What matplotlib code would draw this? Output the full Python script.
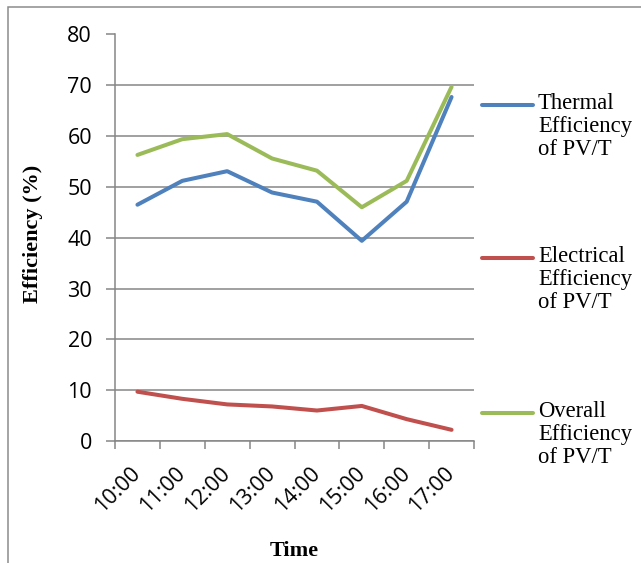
import matplotlib
matplotlib.use('Agg')
import matplotlib.pyplot as plt
from matplotlib.lines import Line2D
from matplotlib.patches import Rectangle

# data
times = ['10:00', '11:00', '12:00', '13:00', '14:00', '15:00', '16:00', '17:00']
thermal = [46.5, 51.2, 53.1, 48.9, 47.1, 39.4, 47.1, 67.7]
electrical = [9.7, 8.3, 7.2, 6.8, 6.0, 6.9, 4.3, 2.2]
overall = [56.3, 59.4, 60.4, 55.6, 53.2, 46.0, 51.2, 69.7]
series_names = ['Thermal\nEfficiency\nof PV/T', 'Electrical\nEfficiency\nof PV/T', 'Overall\nEfficiency\nof PV/T']
colors = ['#4F81BD', '#C0504D', '#9BBB59']

W, H = 641, 563
fig = plt.figure(figsize=(W / 100, H / 100), dpi=100)
# plot area in pixel coords: x 115..474, y 34.5..441
ax = fig.add_axes([115 / W, 1 - 441 / H, (474 - 115) / W, (441 - 34.5) / H])

grid_col = '#868686'
x = list(range(len(times)))
for vals, c in zip([thermal, electrical, overall], colors):
    ax.plot(x, vals, color=c, lw=2.9, solid_capstyle='round', solid_joinstyle='round')

ax.set_xlim(-0.5, len(times) - 0.5)
ax.set_ylim(0, 80)
ax.set_yticks(range(0, 81, 10))
ax.yaxis.grid(True, color=grid_col, lw=1.1)
ax.set_axisbelow(True)
for s in ['top', 'right']:
    ax.spines[s].set_visible(False)
for s in ['left', 'bottom']:
    ax.spines[s].set_color(grid_col)
    ax.spines[s].set_linewidth(1.1)

# ticks between categories on x, labels at centres
ax.set_xticks([i - 0.5 for i in range(len(times) + 1)])
ax.set_xticklabels([])
ax.set_xticks(x, minor=True)
ax.set_xticklabels(times, minor=True, rotation=45, ha='right', va='center',
                   rotation_mode='anchor', fontsize=15.5, family='Open Sans')
ax.tick_params(axis='x', which='major', length=6, color=grid_col, width=1.1)
ax.tick_params(axis='x', which='minor', length=0, pad=21)
ax.tick_params(axis='y', length=6.5, color=grid_col, width=1.1, pad=10, labelsize=15.5)
for lab in ax.get_yticklabels():
    lab.set_family('Open Sans')

fig.text(33 / W, 1 - 234 / H, 'Efficiency (%)', rotation=90, ha='center', va='center',
         family='Liberation Serif', fontweight='bold', fontsize=16)
fig.text(294 / W, 1 - 551 / H, 'Time', ha='center', va='center',
         family='Liberation Serif', fontweight='bold', fontsize=16)

# legend drawn by hand so the swatch sits on the first text line
leg_y = [105, 258, 413]
for name, c, ly in zip(series_names, colors, leg_y):
    fig.add_artist(Line2D([482 / W, 533 / W], [1 - ly / H, 1 - ly / H], color=c, lw=2.9,
                          transform=fig.transFigure, solid_capstyle='round'))
    fig.text(538 / W, 1 - (ly - 12) / H, name, ha='left', va='top', family='Liberation Serif',
             fontsize=16.3, linespacing=1.12)

# outer frame
fig.add_artist(Rectangle((8 / W, -0.05), 1.1, 1 - 7 / H + 0.05, transform=fig.transFigure,
                         fill=False, edgecolor='#8c8c8c', lw=1.1))

fig.savefig('out.png', dpi=100)
